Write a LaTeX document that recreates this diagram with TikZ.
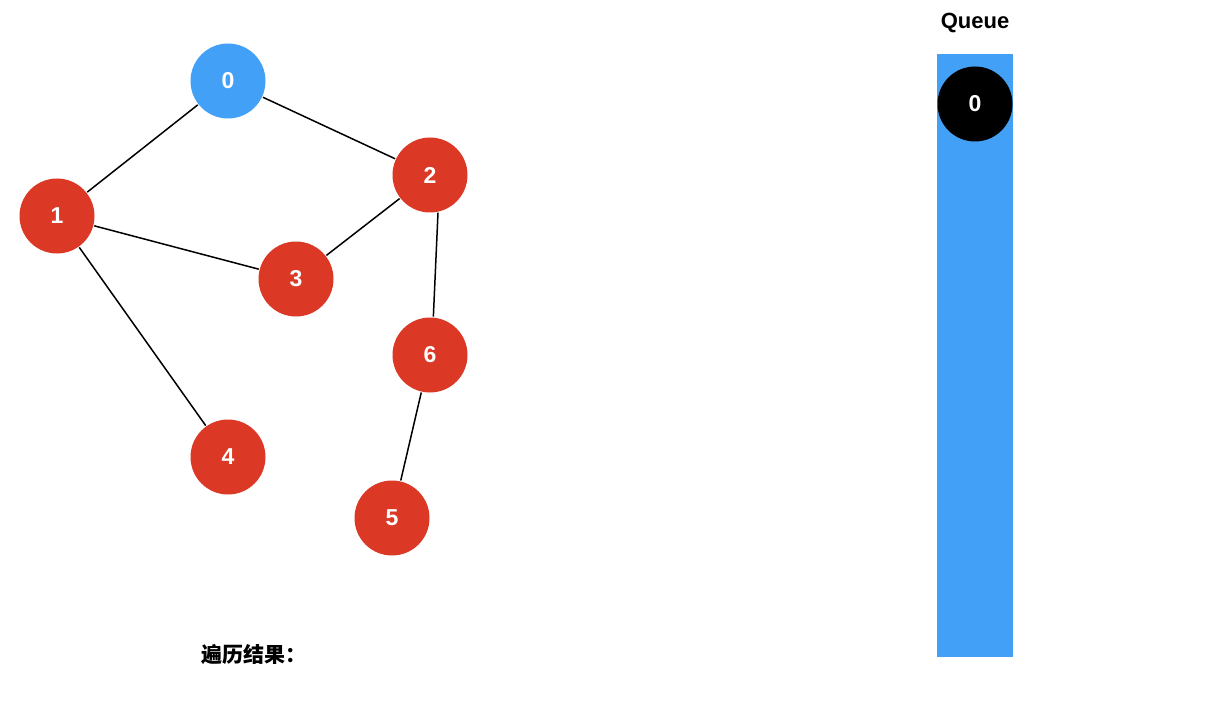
\documentclass[tikz,border=0pt]{standalone}
\usepackage{fontspec}
\setmainfont{Liberation Sans}
\newfontfamily\cjk{Noto Sans CJK SC}
\usetikzlibrary{positioning}
\definecolor{sky}{RGB}{66,161,247}
\definecolor{brick}{RGB}{219,57,38}

\begin{document}
\begin{tikzpicture}[x=1pt,y=-1pt,
    vtx/.style={circle,fill=brick,minimum size=75pt,inner sep=0pt,outer sep=1pt,
      text=white,font=\fontsize{23}{27}\selectfont\bfseries},
    edge/.style={line width=1.5pt,black}]
    \useasboundingbox (0,0) rectangle (1226,722);
    % graph
    \node[vtx,fill=sky] (v0) at (228,81) {0};
    \node[vtx] (v1) at (57,216) {1};
    \node[vtx] (v2) at (430,175) {2};
    \node[vtx] (v3) at (296,279) {3};
    \node[vtx] (v4) at (228,457) {4};
    \node[vtx] (v5) at (392,518) {5};
    \node[vtx] (v6) at (430,355) {6};
    \draw[edge] (v0)--(v1); \draw[edge] (v0)--(v2);
    \draw[edge] (v1)--(v3); \draw[edge] (v1)--(v4);
    \draw[edge] (v2)--(v3); \draw[edge] (v2.-78)--(v6.85);
    \draw[edge] (v6)--(v5);
    % queue
    \node[fill=sky,minimum width=76pt,minimum height=603pt,inner sep=0pt] (queue) at (975,355.5) {};
    \node[font=\fontsize{22}{26}\selectfont\bfseries] (qtitle) at (975,23) {Queue};
    \node[vtx,fill=black] (q0) at (975,104) {0};
    % result
    \node[font=\fontsize{21}{25}\selectfont\cjk\bfseries,anchor=west] (result) at (198,655) {遍历结果：};
  \end{tikzpicture}
\end{document}
